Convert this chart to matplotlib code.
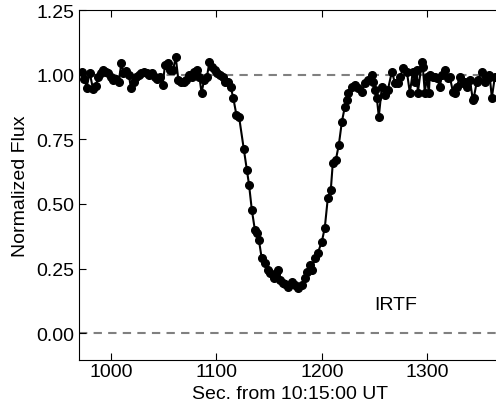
import numpy as np
import matplotlib
matplotlib.use('Agg')
import matplotlib.pyplot as plt

plt.rcParams['font.family'] = ['Liberation Sans', 'DejaVu Sans']

# light curve (seconds from 10:15:00 UT, normalized flux)
t_pre = [972.5, 975, 977, 980, 983, 985.5, 988, 990.5, 992.5, 995, 997.5, 1000,
         1002.5, 1005, 1007.5, 1010, 1012, 1014.5, 1017, 1019, 1021.5, 1024, 1026.5,
         1029, 1031.5, 1034, 1036.5, 1039, 1041.5, 1044, 1046.5, 1049, 1051.5, 1054,
         1056.5, 1059, 1061.5, 1064, 1066.5, 1069, 1071.5, 1074, 1076.5, 1079, 1081.5,
         1084, 1086, 1088.5, 1091, 1093.5, 1096, 1098.5, 1101, 1103.5, 1106, 1108.5]
f_pre = [1.012, 0.985, 0.950, 1.008, 0.946, 0.955, 0.990, 1.005, 1.019, 1.012, 1.005, 0.992,
         0.981, 0.985, 0.973, 1.046, 1.008, 1.015, 1.000, 0.950, 0.973, 0.990, 1.000,
         1.008, 1.012, 1.008, 1.000, 1.008, 0.992, 0.985, 0.992, 0.961, 1.039, 1.046,
         1.020, 1.019, 1.068, 0.980, 0.973, 0.973, 0.981, 1.000, 0.992, 1.010, 1.019,
         0.990, 0.930, 0.981, 0.990, 1.050, 1.031, 1.019, 1.005, 1.000, 0.990, 0.973]

t_dip = [1111, 1113.5, 1116, 1119, 1121.5, 1126, 1129, 1131, 1133.6, 1136.5, 1138.4,
         1140.3, 1143, 1146, 1148.8, 1151, 1154.5, 1156.5, 1158.5, 1160.5, 1163, 1165,
         1168, 1171.6, 1174.4, 1177, 1181, 1183.9, 1185.8, 1188.6, 1190.5, 1193.4,
         1196.2, 1200, 1202.8, 1205.7, 1208.5, 1210.4, 1213.3, 1216.1, 1219, 1221.8]
f_dip = [0.973, 0.954, 0.911, 0.845, 0.838, 0.714, 0.632, 0.574, 0.478, 0.400, 0.389,
         0.361, 0.290, 0.272, 0.245, 0.234, 0.215, 0.230, 0.245, 0.207, 0.195, 0.190,
         0.180, 0.199, 0.187, 0.176, 0.187, 0.214, 0.238, 0.265, 0.245, 0.292,
         0.311, 0.354, 0.408, 0.524, 0.555, 0.659, 0.671, 0.729, 0.818, 0.876]

t_post = [1223.5, 1224.6, 1228.4, 1231.3, 1234.1, 1237.9, 1240.8, 1243.6, 1247.4, 1248.3,
          1250.5, 1252.1, 1254, 1256.9, 1259.7, 1262.6, 1266.4, 1269.2, 1272, 1274.5,
          1276.8, 1280.6, 1283.4, 1286.3, 1288, 1290, 1291, 1294.8, 1295.7, 1297.6,
          1299.5, 1301.4, 1302.4, 1305.2, 1307.1, 1309, 1311.8, 1314, 1316.6, 1319.4,
          1321.3, 1324.2, 1326, 1328, 1330.8, 1333.6, 1336, 1337.4, 1340.3, 1343.1,
          1344, 1346.9, 1347.9, 1351.7, 1354.5, 1356, 1358.3, 1359.2, 1361.1, 1364]
f_post = [0.903, 0.930, 0.954, 0.961, 0.950, 0.934, 0.969, 0.981, 1.000, 0.973,
          0.942, 0.911, 0.837, 0.954, 0.923, 0.942, 1.012, 0.969, 0.969, 0.990,
          1.027, 1.012, 0.930, 1.012, 0.973, 1.019, 0.930, 1.050, 1.031, 0.930,
          0.992, 0.930, 1.000, 0.992, 0.992, 0.988, 0.954, 1.000, 1.019, 0.988,
          0.992, 0.934, 0.930, 0.954, 0.992, 0.969, 0.973, 0.954, 0.981, 0.903,
          0.911, 0.973, 0.980, 1.012, 0.973, 0.992, 1.000, 0.992, 0.911, 0.992]

t = np.array(t_pre + t_dip + t_post)
flux = np.array(f_pre + f_dip + f_post)

fig = plt.figure(figsize=(4.96, 4.10), dpi=100)
ax = fig.add_axes([0.159, 0.1195, 0.85, 0.8535])

ax.axhline(1.0, color='#808080', ls='--', lw=1.5, dashes=(4, 3), zorder=1)
ax.axhline(0.0, color='#808080', ls='--', lw=1.5, dashes=(4, 3), zorder=1)
ax.plot(t, flux, '-o', color='black', lw=1.5, ms=5.5, zorder=3)

ax.text(1250, 0.095, 'IRTF', fontsize=14)

ax.set_xlim(969.7, 1369.3)
ax.set_ylim(-0.104, 1.25)
ax.set_xticks([1000, 1100, 1200, 1300])
ax.set_yticks([0.0, 0.25, 0.5, 0.75, 1.0, 1.25])
ax.set_yticklabels(['0.00', '0.25', '0.50', '0.75', '1.00', '1.25'])
ax.tick_params(direction='in', top=True, right=False, length=5, labelsize=14)
ax.tick_params(axis='x', pad=2)
ax.spines['right'].set_visible(False)
ax.set_xlabel('Sec. from 10:15:00 UT', fontsize=14, labelpad=4)
ax.set_ylabel('Normalized Flux', fontsize=14, labelpad=5)

plt.savefig('out.png', dpi=100)
